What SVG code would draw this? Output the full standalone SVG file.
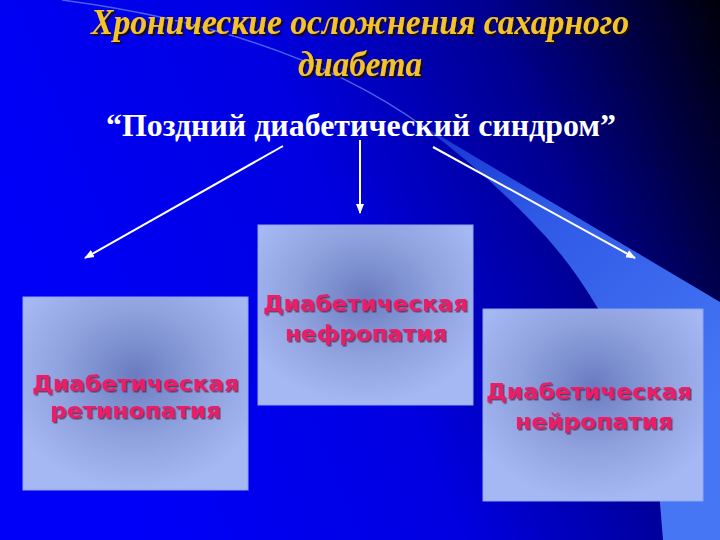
<svg xmlns="http://www.w3.org/2000/svg" width="720" height="540" viewBox="0 0 720 540">
<defs>
<linearGradient id="bg" x1="0" y1="0.3" x2="1" y2="0">
<stop offset="0" stop-color="#0000f8"/>
<stop offset="0.4" stop-color="#0000e0"/>
<stop offset="0.7" stop-color="#000090"/>
<stop offset="1" stop-color="#00000a"/>
</linearGradient>
<linearGradient id="wedge" gradientUnits="userSpaceOnUse" x1="420" y1="124" x2="700" y2="420">
<stop offset="0" stop-color="#1430d0"/>
<stop offset="0.35" stop-color="#2e58e6"/>
<stop offset="1" stop-color="#4676f4"/>
</linearGradient>
<radialGradient id="boxfill" cx="0.5" cy="0.4" r="0.6">
<stop offset="0" stop-color="#6a7cc0"/>
<stop offset="0.55" stop-color="#8fa2de"/>
<stop offset="1" stop-color="#a6b8f4"/>
</radialGradient>
<filter id="shTitle" x="-5%" y="-20%" width="110%" height="150%">
<feDropShadow dx="2" dy="2" stdDeviation="0.6" flood-color="#1a1000" flood-opacity="0.9"/>
</filter>
<filter id="shLbl" x="-5%" y="-20%" width="110%" height="150%">
<feDropShadow dx="1.5" dy="1.5" stdDeviation="0.5" flood-color="#4a0830" flood-opacity="0.65"/>
</filter>
<marker id="ah" viewBox="0 0 10 10" refX="9" refY="5" markerWidth="5" markerHeight="5" orient="auto" markerUnits="strokeWidth">
<path d="M0,1 L10,5 L0,9 z" fill="#ffffff"/>
</marker>
<style>
.box{fill:url(#boxfill);stroke:#8ea4ec;stroke-width:1}
.lbl{font-family:"DejaVu Sans","Noto Sans",sans-serif;font-weight:bold;font-size:22px;fill:#ec1c66;text-anchor:middle;filter:url(#shLbl)}
.title{font-family:"Liberation Serif",serif;font-style:italic;font-weight:bold;font-size:36px;text-anchor:middle;fill:#f4c22a;filter:url(#shTitle)}
.sub{font-family:"Liberation Serif",serif;font-weight:bold;font-size:31px;fill:#ffffff;text-anchor:middle}
.arr{stroke:#ffffff;stroke-width:2;fill:none;marker-end:url(#ah)}
</style>
</defs>
<rect x="0" y="0" width="720" height="540" fill="url(#bg)"/>
<path d="M420,124 L720,302 L720,540 L663,540 L660,503 Q640,380 597,307 Q568,258 532,222 Q482,170 420,124 z" fill="url(#wedge)"/>
<path d="M62,0 Q290,30 424,127" stroke="#5a7cf0" stroke-width="1.4" fill="none" stroke-opacity="0.8"/>

<g id="title">
<text class="title" x="360" y="34" textLength="538" lengthAdjust="spacingAndGlyphs">Хронические  осложнения сахарного</text>
<text class="title" x="360" y="76" textLength="124" lengthAdjust="spacingAndGlyphs">диабета</text>
</g>
<g id="subtitle">
<text class="sub" x="361" y="136" textLength="510" lengthAdjust="spacingAndGlyphs">“Поздний диабетический синдром”</text>
</g>

<g id="connectors">
<line class="arr" x1="283" y1="146" x2="85" y2="258"/>
<line class="arr" x1="360" y1="140" x2="360" y2="213"/>
<line class="arr" x1="433" y1="147" x2="635" y2="258"/>
</g>

<g id="retinopathy">
<rect class="box" x="23" y="297" width="225" height="193"/>
<text class="lbl" x="135.5" y="391" textLength="207" lengthAdjust="spacingAndGlyphs">Диабетическая</text>
<text class="lbl" x="135.5" y="418" textLength="171" lengthAdjust="spacingAndGlyphs">ретинопатия</text>
</g>

<g id="nephropathy">
<rect class="box" x="258" y="225" width="215" height="180"/>
<text class="lbl" x="365.5" y="311" textLength="205" lengthAdjust="spacingAndGlyphs">Диабетическая</text>
<text class="lbl" x="366" y="341" textLength="162" lengthAdjust="spacingAndGlyphs">нефропатия</text>
</g>

<g id="neuropathy">
<rect class="box" x="483" y="309" width="220" height="192"/>
<text class="lbl" x="589" y="399" textLength="206" lengthAdjust="spacingAndGlyphs">Диабетическая</text>
<text class="lbl" x="594" y="429" textLength="158" lengthAdjust="spacingAndGlyphs">нейропатия</text>
</g>
</svg>
